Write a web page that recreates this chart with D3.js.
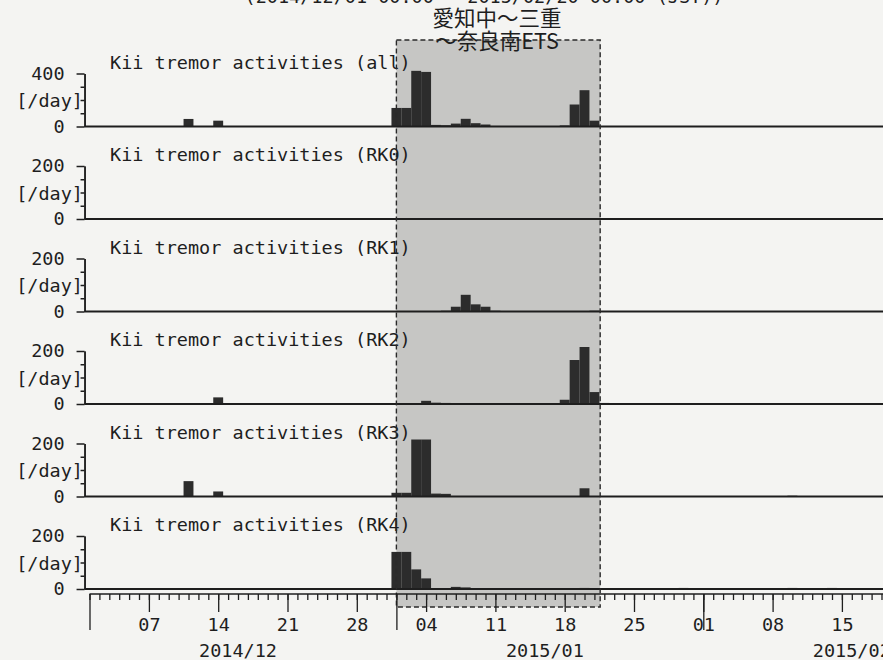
<!DOCTYPE html>
<html lang="ja">
<head>
<meta charset="utf-8">
<title>Kii tremor activities</title>
<script src="https://d3js.org/d3.v7.min.js"></script>
<style>
  body { margin: 0; background: #f4f4f2; }
  svg { display: block; }
  text { font-family: "DejaVu Sans Mono", monospace; fill: #1e1e1e; }
  .jp { font-family: "Noto Sans CJK JP", sans-serif; }
</style>
</head>
<body>
<script>
// panels, top to bottom
var panelNames = ["all", "RK0", "RK1", "RK2", "RK3", "RK4"];
var panelMax = [400, 200, 200, 200, 200, 200];

// daily tremor counts [day, count]; days not listed are 0
var countsAll = [
  ["2014-12-04", 3], ["2014-12-11", 57], ["2014-12-14", 44], ["2014-12-15", 3],
  ["2014-12-18", 2], ["2014-12-24", 3], ["2015-01-01", 140], ["2015-01-02", 140],
  ["2015-01-03", 420], ["2015-01-04", 412], ["2015-01-05", 12], ["2015-01-06", 10],
  ["2015-01-07", 22], ["2015-01-08", 58], ["2015-01-09", 25], ["2015-01-10", 15],
  ["2015-01-11", 4], ["2015-01-18", 8], ["2015-01-19", 166], ["2015-01-20", 274],
  ["2015-01-21", 44], ["2015-01-22", 3], ["2015-01-30", 3], ["2015-02-03", 3],
  ["2015-02-10", 3], ["2015-02-14", 3]
];
var countsRK0 = [
  ["2015-01-25", 1], ["2015-02-03", 2], ["2015-02-13", 2]
];
var countsRK1 = [
  ["2014-12-18", 2], ["2014-12-19", 2], ["2015-01-06", 3], ["2015-01-07", 18],
  ["2015-01-08", 63], ["2015-01-09", 27], ["2015-01-10", 18], ["2015-01-11", 3],
  ["2015-01-21", 3]
];
var countsRK2 = [
  ["2014-12-11", 3], ["2014-12-14", 25], ["2015-01-04", 12], ["2015-01-05", 5],
  ["2015-01-06", 4], ["2015-01-17", 3], ["2015-01-18", 16], ["2015-01-19", 166],
  ["2015-01-20", 243], ["2015-01-21", 45], ["2015-01-22", 4], ["2015-02-02", 2]
];
var countsRK3 = [
  ["2014-12-11", 58], ["2014-12-14", 19], ["2015-01-01", 14], ["2015-01-02", 14],
  ["2015-01-03", 330], ["2015-01-04", 360], ["2015-01-05", 11], ["2015-01-06", 10],
  ["2015-01-20", 31], ["2015-02-10", 3]
];
var countsRK4 = [
  ["2014-12-05", 3], ["2014-12-15", 3], ["2014-12-24", 3], ["2015-01-01", 140],
  ["2015-01-02", 140], ["2015-01-03", 74], ["2015-01-04", 40], ["2015-01-07", 8],
  ["2015-01-08", 6], ["2015-01-20", 4], ["2015-01-30", 4], ["2015-02-10", 4],
  ["2015-02-14", 4]
];
var panelCounts = [countsAll, countsRK0, countsRK1, countsRK2, countsRK3, countsRK4];

var timeRange = ["2014-11-30T12:00", "2015-02-20T00:00"];
var etsWindow = ["2015-01-01T00:00", "2015-01-21T14:00"];
var monthLabels = [["2014-12-16", "2014/12"], ["2015-01-16", "2015/01"], ["2015-02-16", "2015/02"]];
var rangeText = "(2014/12/01 00:00 - 2015/02/20 00:00 (JST))";
var etsText = ["愛知中～三重", "～奈良南ETS"];

var width = 883, height = 660;
var parseDay = d3.utcParse("%Y-%m-%d");
var parseTime = d3.utcParse("%Y-%m-%dT%H:%M");

var svg = d3.select("body").append("svg")
    .attr("width", width)
    .attr("height", height);

// x: one day is about 9.9px, Dec 1 at 89.5
var x = d3.scaleUtc()
    .domain(timeRange.map(parseTime))
    .range([84.55, 84.55 + 81.5 * 9.9]);

var panelTop0 = 73.5, panelStep = 92.5, panelH = 53;
var axisY = 594;

// shaded ETS window
var shadeX0 = x(parseTime(etsWindow[0])), shadeX1 = x(parseTime(etsWindow[1]));
svg.append("rect")
    .attr("x", shadeX0).attr("y", 40)
    .attr("width", shadeX1 - shadeX0).attr("height", 567)
    .attr("fill", "#c6c6c4");

var defs = svg.append("defs");

panelNames.forEach(function(name, i) {
    var top = panelTop0 + i * panelStep;
    var base = top + panelH;
    var y = d3.scaleLinear().domain([0, panelMax[i]]).range([base, top]);
    var g = svg.append("g");

    defs.append("clipPath").attr("id", "clip" + i)
      .append("rect")
        .attr("x", 0).attr("y", top - 4)
        .attr("width", width).attr("height", base - top + 4);

    // daily bars centred on each day
    g.append("g").attr("clip-path", "url(#clip" + i + ")")
      .selectAll("rect")
      .data(panelCounts[i])
      .enter().append("rect")
        .attr("x", function(d) { return x(d3.utcHour.offset(parseDay(d[0]), -12)); })
        .attr("width", function(d) {
            var t = parseDay(d[0]);
            return x(d3.utcHour.offset(t, 12)) - x(d3.utcHour.offset(t, -12));
        })
        .attr("y", function(d) { return y(d[1]); })
        .attr("height", function(d) { return base - y(d[1]); })
        .attr("fill", "#2c2c2c");

    // baseline
    g.append("line")
        .attr("x1", x.range()[0]).attr("x2", width)
        .attr("y1", base).attr("y2", base)
        .attr("stroke", "#1e1e1e").attr("stroke-width", 2);

    // y axis: major ticks at 0 and max, minor at quarters
    var yAxis = g.append("g").attr("transform", "translate(" + x.range()[0] + ",0)");
    yAxis.call(d3.axisLeft(y)
        .tickValues([0, panelMax[i]])
        .tickSize(8).tickSizeOuter(0).tickPadding(12));
    yAxis.append("g").call(d3.axisLeft(y)
        .tickValues([panelMax[i] / 4, panelMax[i] / 2, panelMax[i] * 3 / 4])
        .tickSize(4).tickSizeOuter(0).tickFormat(""));
    yAxis.selectAll("path, line").attr("stroke", "#1e1e1e").attr("stroke-width", 1.5);
    yAxis.selectAll("text")
        .style("font-family", "DejaVu Sans Mono, monospace")
        .style("font-size", "18.5px")
        .attr("fill", "#1e1e1e");

    g.append("text")
        .attr("x", 83).attr("y", (top + base) / 2 + 1)
        .attr("dy", "0.35em")
        .attr("text-anchor", "end")
        .style("font-size", "18.5px")
        .text("[/day]");

    g.append("text")
        .attr("x", 110).attr("y", top - 5)
        .style("font-size", "18.5px")
        .text("Kii tremor activities (" + name + ")");
});

// dashed outline of the ETS window
svg.append("rect")
    .attr("x", shadeX0).attr("y", 40)
    .attr("width", shadeX1 - shadeX0).attr("height", 567)
    .attr("fill", "none")
    .attr("stroke", "#2a2a2a")
    .attr("stroke-width", 1.4)
    .attr("stroke-dasharray", "5,3");

// time axis: days, Sundays (labelled), months
var xDomain = [parseDay("2014-12-01"), x.domain()[1]];
var xAxisG = svg.append("g").attr("transform", "translate(0," + axisY + ")");
xAxisG.append("line")
    .attr("x1", x(xDomain[0])).attr("x2", width)
    .attr("stroke", "#1e1e1e").attr("stroke-width", 1.5);
xAxisG.append("g").call(d3.axisBottom(x)
    .tickValues(d3.utcDay.range(xDomain[0], xDomain[1]))
    .tickSize(6).tickFormat(""));
xAxisG.append("g").call(d3.axisBottom(x)
    .tickValues(d3.utcSunday.range(xDomain[0], xDomain[1]))
    .tickSize(18).tickPadding(6)
    .tickFormat(d3.utcFormat("%d")));
xAxisG.append("g").call(d3.axisBottom(x)
    .tickValues(d3.utcMonth.range(xDomain[0], xDomain[1]))
    .tickSize(36).tickFormat(""));
xAxisG.selectAll(".domain").remove();
xAxisG.selectAll("line").attr("stroke", "#1e1e1e").attr("stroke-width", 1.3);
xAxisG.selectAll("text")
    .style("font-family", "DejaVu Sans Mono, monospace")
    .style("font-size", "18.5px")
    .attr("fill", "#1e1e1e");

svg.append("g").selectAll("text")
    .data(monthLabels)
    .enter().append("text")
      .attr("x", function(d) { return x(parseDay(d[0])); })
      .attr("y", 657)
      .attr("text-anchor", "middle")
      .style("font-size", "18.5px")
      .text(function(d) { return d[1]; });

// header texts
svg.append("text")
    .attr("x", 484).attr("y", 3)
    .attr("text-anchor", "middle")
    .style("font-size", "18.5px")
    .text(rangeText);

svg.append("g").selectAll("text")
    .data(etsText)
    .enter().append("text")
      .attr("class", "jp")
      .attr("x", 497)
      .attr("y", function(d, i) { return 26 + i * 23; })
      .attr("text-anchor", "middle")
      .style("font-size", "21.5px")
      .text(function(d) { return d; });
</script>
</body>
</html>
